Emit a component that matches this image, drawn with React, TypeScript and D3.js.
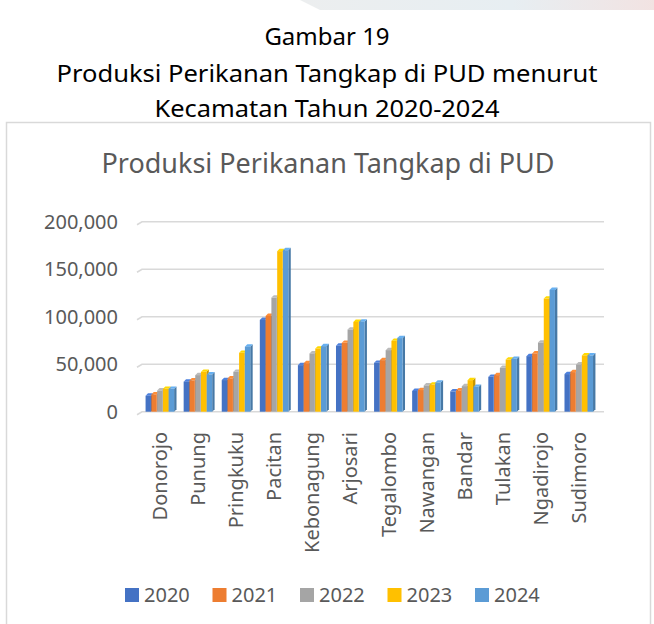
import React, { useRef, useEffect } from 'react';
import * as d3 from 'd3';

// kecamatan (kategori sumbu X)
const categories = [
  'Donorojo', 'Punung', 'Pringkuku', 'Pacitan', 'Kebonagung', 'Arjosari',
  'Tegalombo', 'Nawangan', 'Bandar', 'Tulakan', 'Ngadirojo', 'Sudimoro'
];

const years = ['2020', '2021', '2022', '2023', '2024'];

// produksi per tahun, urut sesuai categories
const v2020 = [16800, 31600, 33300, 96600, 49000, 69400, 51500, 21800, 21400, 36700, 58500, 39600];
const v2021 = [18200, 32900, 35000, 100800, 51100, 72500, 54300, 22800, 22400, 38500, 61300, 41700];
const v2022 = [22300, 38500, 42000, 120100, 61300, 86500, 64800, 27600, 26900, 46200, 72800, 49700];
const v2023 = [24100, 42000, 62000, 169000, 66500, 94500, 74600, 28600, 33200, 54900, 119100, 59200];
const v2024 = [24100, 39200, 68500, 170000, 69000, 94800, 77500, 30700, 26200, 55700, 128200, 59200];

const yTicks = [0, 50000, 100000, 150000, 200000];

const colors = ['#4472C4', '#ED7D31', '#A5A5A5', '#FFC000', '#5B9BD5'];

const FONT = '"Noto Sans", "Open Sans", sans-serif';

export default function App() {
  const svgRef = useRef<SVGSVGElement>(null);

  useEffect(() => {
    if (!svgRef.current) return;
    document.body.style.margin = '0';

    const svg = d3.select(svgRef.current);
    svg.selectAll('*').remove();

    const W = 654;
    const H = 624;
    svg.attr('width', W).attr('height', H);

    const series = [v2020, v2021, v2022, v2023, v2024];

    // background strip at the very top (faded banner of the page)
    const defs = svg.append('defs');
    const grad = defs.append('linearGradient').attr('id', 'topband').attr('x1', 0).attr('x2', 1);
    grad.append('stop').attr('offset', '0%').attr('stop-color', '#eceeef');
    grad.append('stop').attr('offset', '60%').attr('stop-color', '#e7eef2');
    grad.append('stop').attr('offset', '100%').attr('stop-color', '#f2e3e2');
    svg.append('path')
      .attr('d', 'M300,0 L654,0 L654,10 L320,10 Z')
      .attr('fill', 'url(#topband)');

    // caption
    const cap = svg.append('g')
      .attr('font-family', FONT)
      .attr('fill', '#000')
      .attr('text-anchor', 'middle');
    cap.append('text').attr('x', 327).attr('y', 45).attr('font-size', 24).text('Gambar 19');
    cap.append('text').attr('x', 327).attr('y', 82).attr('font-size', 24)
      .attr('textLength', 541).attr('lengthAdjust', 'spacingAndGlyphs')
      .text('Produksi Perikanan Tangkap di PUD menurut');
    cap.append('text').attr('x', 327).attr('y', 117).attr('font-size', 24)
      .attr('textLength', 345).attr('lengthAdjust', 'spacingAndGlyphs')
      .text('Kecamatan Tahun 2020-2024');

    // chart border
    svg.append('rect')
      .attr('x', 6.5).attr('y', 122.5)
      .attr('width', 644).attr('height', 520)
      .attr('fill', '#fff')
      .attr('stroke', '#D9D9D9')
      .attr('stroke-width', 1.5);

    // chart title
    svg.append('text')
      .attr('x', 328).attr('y', 173)
      .attr('text-anchor', 'middle')
      .attr('font-family', FONT)
      .attr('font-size', 28)
      .attr('fill', '#595959')
      .attr('textLength', 453).attr('lengthAdjust', 'spacingAndGlyphs')
      .text('Produksi Perikanan Tangkap di PUD');

    const x = d3.scaleBand()
      .domain(categories)
      .range([141, 598])
      .paddingInner(0.24)
      .paddingOuter(0.12);

    const xInner = d3.scaleBand()
      .domain(years)
      .range([0, x.bandwidth()]);

    const y = d3.scaleLinear().domain([0, 200000]).range([411.7, 221.7]);

    // gridlines (3D back wall)
    const grid = svg.append('g');
    yTicks.forEach(t => {
      const yy = y(t);
      grid.append('path')
        .attr('d', `M137,${yy + 3} L142,${yy} L604,${yy}`)
        .attr('fill', 'none')
        .attr('stroke', '#D9D9D9')
        .attr('stroke-width', 1.6);
    });

    // y-axis labels
    const fmt = d3.format(',');
    svg.append('g')
      .attr('font-family', FONT)
      .attr('font-size', 20)
      .attr('fill', '#595959')
      .attr('text-anchor', 'end')
      .selectAll('text')
      .data(yTicks)
      .join('text')
      .attr('x', 118)
      .attr('y', d => y(d))
      .attr('dy', '0.36em')
      .text(d => fmt(d));

    // 3D columns
    const dx = 2.4;
    const dy = 2.4;
    const bw = xInner.bandwidth() - 0.4;
    const bars = svg.append('g');
    categories.forEach((cat, ci) => {
      years.forEach((yr, si) => {
        const v = series[si][ci];
        const x0 = x(cat)! + xInner(yr)!;
        const yTop = y(v);
        const yBase = y(0);
        const c = d3.color(colors[si])!;
        // side face
        bars.append('path')
          .attr('d', `M${x0 + bw},${yTop} L${x0 + bw + dx},${yTop - dy} L${x0 + bw + dx},${yBase - dy} L${x0 + bw},${yBase} Z`)
          .attr('fill', c.darker(0.7).toString());
        // top face
        bars.append('path')
          .attr('d', `M${x0},${yTop} L${x0 + dx},${yTop - dy} L${x0 + bw + dx},${yTop - dy} L${x0 + bw},${yTop} Z`)
          .attr('fill', c.brighter(0.35).toString());
        // front face
        bars.append('rect')
          .attr('x', x0)
          .attr('y', yTop)
          .attr('width', bw)
          .attr('height', yBase - yTop)
          .attr('fill', colors[si]);
      });
    });

    // category labels (rotated)
    svg.append('g')
      .attr('font-family', FONT)
      .attr('font-size', 20)
      .attr('fill', '#595959')
      .selectAll('text')
      .data(categories)
      .join('text')
      .attr('text-anchor', 'end')
      .attr('dy', '0.35em')
      .attr('transform', d => `translate(${x(d)! + x.bandwidth() / 2},432) rotate(-90)`)
      .text(d => d);

    // legend
    const legend = svg.append('g')
      .attr('font-family', FONT)
      .attr('font-size', 20)
      .attr('fill', '#595959');
    years.forEach((yr, i) => {
      const lx = 125 + i * 87.5;
      legend.append('rect')
        .attr('x', lx).attr('y', 588)
        .attr('width', 14).attr('height', 14)
        .attr('fill', colors[i]);
      legend.append('text')
        .attr('x', lx + 19).attr('y', 602)
        .text(yr);
    });
  }, []);

  return <svg ref={svgRef} style={{ display: 'block' }} />;
}
